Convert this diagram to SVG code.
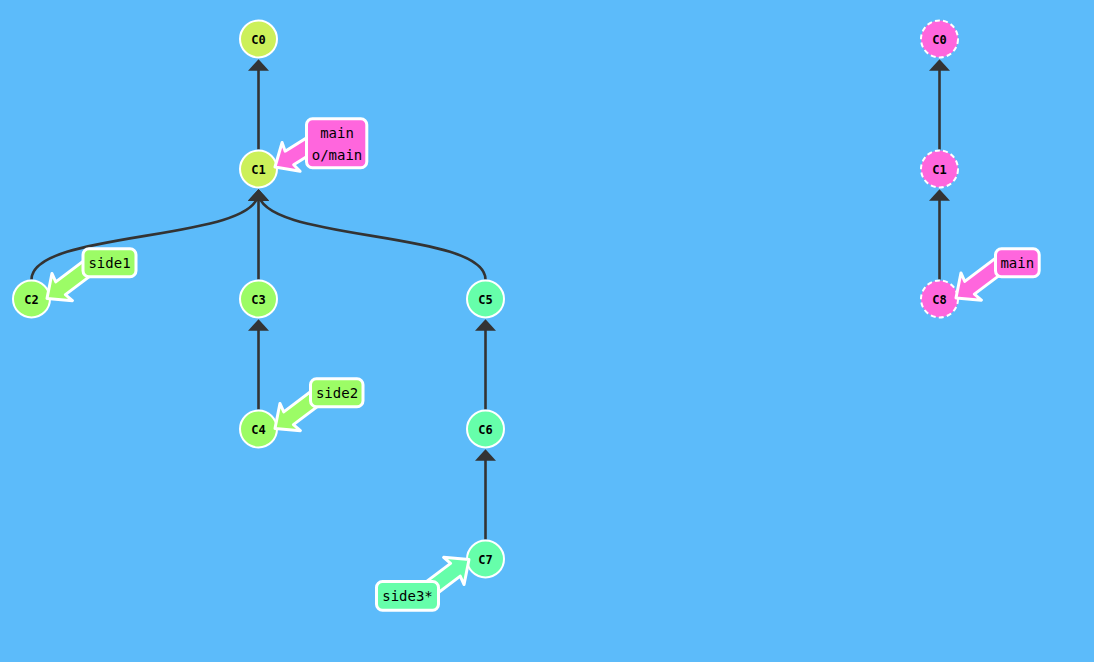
<svg xmlns="http://www.w3.org/2000/svg" width="1094" height="662" viewBox="0 0 1094 662">
  <defs>
    <marker id="head" markerUnits="userSpaceOnUse" viewBox="-12 -12 24 24" markerWidth="24" markerHeight="24" refX="0" refY="0" orient="auto" overflow="visible">
      <path d="M3,0 L-8.5,-10.5 L-8.5,10.5 Z" fill="#333"/>
    </marker>
    <!-- branch pointer, tip at origin, tail along +x -->
    <path id="ptr" d="M0,0 L19,-17 L17,-8 L62,-8 L62,8 L17,8 L19,17 Z"/>
  </defs>
  <style>
    .edge { fill: none; stroke: #333; stroke-width: 2.6; marker-end: url(#head); }
    .node circle { stroke: #fff; stroke-width: 2; }
    .node text { font-family: "DejaVu Sans Mono", "Liberation Mono", monospace; font-size: 12px; font-weight: bold; fill: #000; text-anchor: middle; }
    .ghost circle { stroke-dasharray: 5 3.2; }
    .c-root { fill: #ccf05a; }
    .c-side { fill: #9cfc66; }
    .c-side3 { fill: #66feaa; }
    .c-pink { fill: #ff66dd; }
    .branch use, .branch rect { stroke: #fff; stroke-width: 3; stroke-linejoin: round; }
    .branch text { font-family: "DejaVu Sans Mono", "Liberation Mono", monospace; font-size: 14px; fill: #000; text-anchor: middle; }
  </style>

  <rect width="1094" height="662" fill="#5cbbfa"/>

  <g id="connectors">
    <path class="edge" d="M258.5,149.5 L258.5,62.3"/>
    <path class="edge" d="M258.5,279.5 L258.5,192.3"/>
    <path class="edge" d="M31.5,279.5 C31.5,229.5 258.5,242.3 258.5,192.3"/>
    <path class="edge" d="M485.5,279.5 C485.5,229.5 258.5,242.3 258.5,192.3"/>
    <path class="edge" d="M258.5,409.5 L258.5,322.3"/>
    <path class="edge" d="M485.5,409.5 L485.5,322.3"/>
    <path class="edge" d="M485.5,539.5 L485.5,452.3"/>
    <path class="edge" d="M939.5,149.5 L939.5,62.3"/>
    <path class="edge" d="M939.5,279.5 L939.5,192.3"/>
  </g>

  <!-- local repository commits -->
  <g id="C0" class="node"><circle class="c-root" cx="258.5" cy="39" r="18.5"/><text x="258.5" y="43.5">C0</text></g>
  <g id="C1" class="node"><circle class="c-root" cx="258.5" cy="169" r="18.5"/><text x="258.5" y="173.5">C1</text></g>
  <g id="C2" class="node"><circle class="c-side" cx="31.5" cy="299" r="18.5"/><text x="31.5" y="303.5">C2</text></g>
  <g id="C3" class="node"><circle class="c-side" cx="258.5" cy="299" r="18.5"/><text x="258.5" y="303.5">C3</text></g>
  <g id="C4" class="node"><circle class="c-side" cx="258.5" cy="429" r="18.5"/><text x="258.5" y="433.5">C4</text></g>
  <g id="C5" class="node"><circle class="c-side3" cx="485.5" cy="299" r="18.5"/><text x="485.5" y="303.5">C5</text></g>
  <g id="C6" class="node"><circle class="c-side3" cx="485.5" cy="429" r="18.5"/><text x="485.5" y="433.5">C6</text></g>
  <g id="C7" class="node"><circle class="c-side3" cx="485.5" cy="559" r="18.5"/><text x="485.5" y="563.5">C7</text></g>

  <!-- remote repository commits -->
  <g id="R-C0" class="node ghost"><circle class="c-pink" cx="939.5" cy="39" r="18.5"/><text x="939.5" y="43.5">C0</text></g>
  <g id="R-C1" class="node ghost"><circle class="c-pink" cx="939.5" cy="169" r="18.5"/><text x="939.5" y="173.5">C1</text></g>
  <g id="R-C8" class="node ghost"><circle class="c-pink" cx="939.5" cy="299" r="18.5"/><text x="939.5" y="303.5">C8</text></g>

  <!-- branch labels -->
  <g id="branch-main" class="branch">
    <use href="#ptr" class="c-pink" transform="translate(275,167) rotate(-32)"/>
    <rect class="c-pink" x="306.5" y="118.8" width="60.3" height="49" rx="6"/>
    <text x="337" y="138">main</text>
    <text x="337" y="160">o/main</text>
  </g>
  <g id="branch-side1" class="branch">
    <use href="#ptr" class="c-side" transform="translate(47,298.5) rotate(-37)"/>
    <rect class="c-side" x="83" y="248.8" width="53" height="28" rx="6"/>
    <text x="109.5" y="268">side1</text>
  </g>
  <g id="branch-side2" class="branch">
    <use href="#ptr" class="c-side" transform="translate(275,428.5) rotate(-37)"/>
    <rect class="c-side" x="310.5" y="378.8" width="52.5" height="28" rx="6"/>
    <text x="337" y="398">side2</text>
  </g>
  <g id="branch-side3" class="branch">
    <use href="#ptr" class="c-side3" transform="translate(469,559.5) rotate(143)"/>
    <rect class="c-side3" x="376.5" y="581.5" width="62" height="28.7" rx="6"/>
    <text x="407.5" y="601.3">side3*</text>
  </g>
  <g id="remote-main" class="branch">
    <use href="#ptr" class="c-pink" transform="translate(956,298) rotate(-37)"/>
    <rect class="c-pink" x="995.5" y="248.8" width="43.7" height="28" rx="6"/>
    <text x="1017.3" y="268">main</text>
  </g>
</svg>
